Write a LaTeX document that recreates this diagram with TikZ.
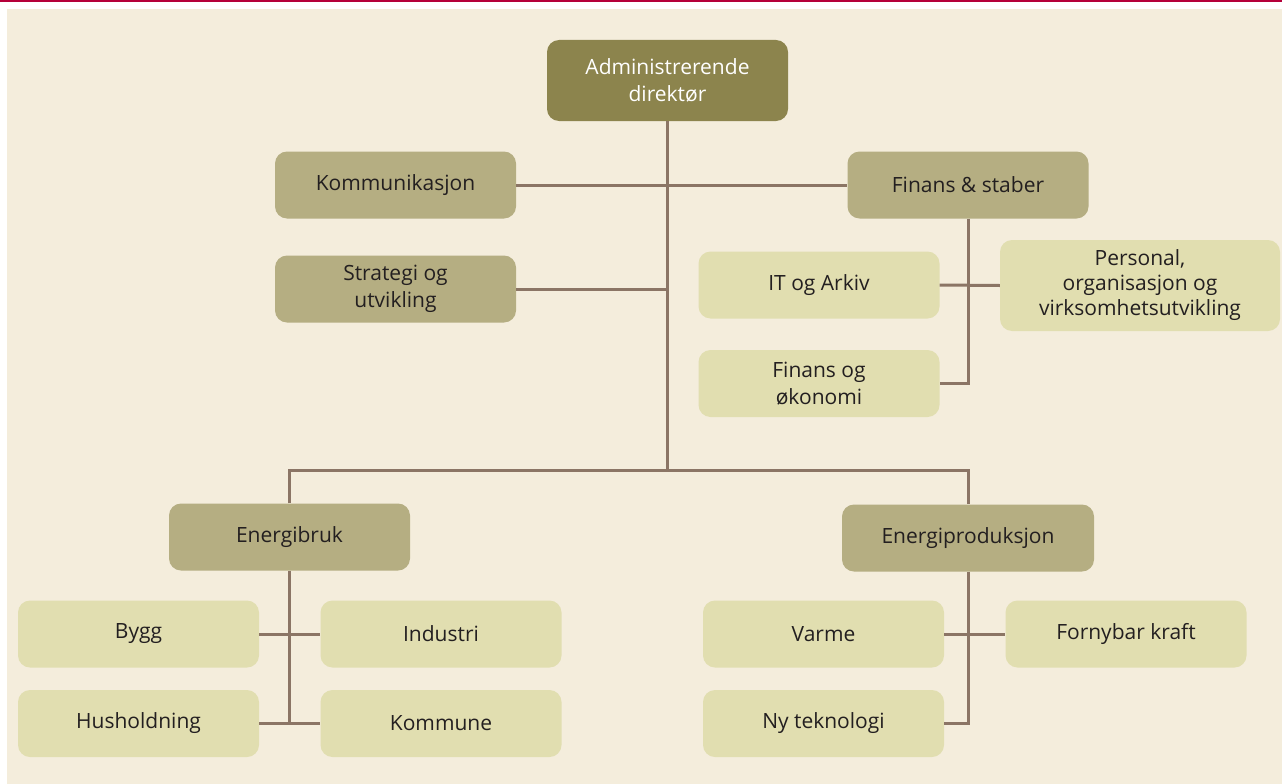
\documentclass[tikz,border=0pt]{standalone}
\usepackage{fontspec}
\setmainfont{Open Sans}
\definecolor{couleurfond}{HTML}{F4EDDC}
\definecolor{couleurligne}{HTML}{B5003A}
\definecolor{couleurdire}{HTML}{8C844D}
\definecolor{couleurmoye}{HTML}{B5AE82}
\definecolor{couleurclai}{HTML}{E1DEB0}
\definecolor{couleurlien}{HTML}{8B7565}
\definecolor{couleurtext}{HTML}{231F20}
\newcommand{\lienhorz}[2]{\draw (#1.east) -- (#2.west);}
\tikzset{
		basic/.style={rounded corners=12pt, minimum width=241pt, minimum height=67pt, inner sep=0pt, align=center, text=couleurtext, font=\fontsize{21}{26.5}\selectfont},
		direction/.style={basic, fill=couleurdire, text=white, minimum height=81pt},
		service/.style={basic, fill=couleurmoye},
		unite/.style={basic, fill=couleurclai},
		lien/.style={draw=couleurlien, line width=3pt}
	}
\begin{document}
\begin{tikzpicture}[x=1pt, y=-1pt]
		\useasboundingbox (0,0) rectangle (1282,784);
		% fond
		\fill[couleurfond] (7,9) rectangle (1282,784);
		\fill[couleurligne] (0,0) rectangle (1282,2.5);
		
		% direction et staber
		\node[direction](admidire) at (667.5,80.5){Administrerende\\direktør};
		\node[service](kommunik) at (395.5,185){Kommunikasjon};
		\node[service](strategi) at (395.5,289){Strategi og\\utvikling};
		\node[service](finstabe) at (968,185){Finans \& staber};
		\node[unite](itarkiv) at (819,285){IT og Arkiv};
		\node[unite](finokono) at (819,383.5){Finans og\\økonomi};
		\node[unite, minimum width=280pt, minimum height=91pt, font=\fontsize{21}{25}\selectfont](personal) at (1140,285.5){Personal,\\organisasjon og\\virksomhetsutvikling};
		
		% divisjoner
		\node[service](energbru) at (289.5,537){Energibruk};
		\node[service, minimum width=252pt](energpro) at (968,538){Energiproduksjon};
		\node[unite](bygg) at (138.5,634){Bygg};
		\node[unite](industri) at (441,634){Industri};
		\node[unite](hushold) at (138.5,723.5){Husholdning};
		\node[unite](kommune) at (441,723.5){Kommune};
		\node[unite](varme) at (823.5,634){Varme};
		\node[unite](fornybar) at (1126,634){Fornybar kraft};
		\node[unite](nyteknol) at (823.5,723.5){Ny teknologi};
		
		% Liens
		\coordinate (jonction) at (667.5,470);
		\begin{scope}[lien]
			\draw (admidire.south) -- (jonction);
			\lienhorz{kommunik}{finstabe}
			\draw (strategi.east) -- (strategi.east -| admidire.south);
			\draw (finstabe.south) |- (finokono.east);
			\lienhorz{itarkiv}{personal}
			\draw (energbru.north) |- (jonction) -| (energpro.north);
			
			\draw (energbru.south) |- (hushold.east);
			\draw (energbru.south |- kommune.west) -- (kommune.west);
			\lienhorz{bygg}{industri}
			
			\draw (energpro.south) |- (nyteknol.east);
			\lienhorz{varme}{fornybar}
		\end{scope}
	\end{tikzpicture}
\end{document}
